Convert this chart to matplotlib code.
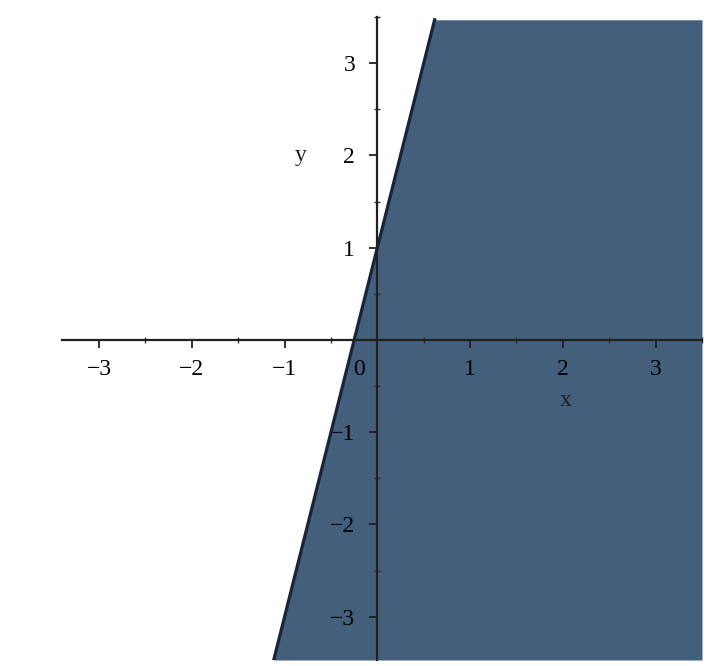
import numpy as np
import matplotlib
matplotlib.use("Agg")
import matplotlib.pyplot as plt
from matplotlib.transforms import ScaledTranslation

# boundary line y = 4x + 1, region y <= 4x + 1 is shaded
slope = 4.0
intercept = 1.0
x_range = [-3.4, 3.5]
y_range = [-3.47, 3.47]
major_ticks = [-3, -2, -1, 0, 1, 2, 3]
x_tick_labels = ["\u22123", "\u22122", "\u22121", "0", "1", "2", "3"]
y_ticks = [-3, -2, -1, 1, 2, 3]
y_tick_labels = ["\u22123", "\u22122", "\u22121", "1", "2", "3"]

plt.rcParams['font.family'] = ['Liberation Serif', 'DejaVu Serif']

fig = plt.figure(figsize=(7.07, 6.66), dpi=100)
ax = fig.add_axes([62/707, 6/666, 640/707, 643/666])

ys = np.array(y_range)
xs = (ys - intercept) / slope
ax.fill_betweenx(ys, xs, x_range[1], color="#445f7c", lw=0, zorder=1)
ax.plot(xs, ys, color="#16253a", lw=2.3, zorder=3)

ax.set_xlim(x_range)
ax.set_ylim(y_range)

for side in ["top", "right"]:
    ax.spines[side].set_visible(False)
ax.spines["left"].set_position(("data", 0))
ax.spines["bottom"].set_position(("data", 0))
for side in ["left", "bottom"]:
    ax.spines[side].set_linewidth(1.6)
    ax.spines[side].set_color("#202020")
    ax.spines[side].set_zorder(4)

ax.set_xticks(major_ticks)
ax.set_xticklabels(x_tick_labels)
ax.set_yticks(y_ticks)
ax.set_yticklabels(y_tick_labels)
ax.set_xticks(np.arange(-3, 3.6, 0.5), minor=True)
ax.set_yticks(np.arange(-3, 3.6, 0.5), minor=True)
ax.tick_params(which="major", direction="out", length=6, width=1.3,
               color="#202020", labelsize=17, pad=8)
ax.tick_params(which="minor", direction="inout", length=4, width=1.0,
               color="#303030")
ax.tick_params(axis="y", which="major", pad=10)

# origin label sits left of the vertical axis
for lab in ax.get_xticklabels():
    if lab.get_text() == "0":
        lab.set_transform(lab.get_transform() +
                          ScaledTranslation(-0.18, 0, fig.dpi_scale_trans))

ax.text(2.03, -0.66, "x", fontsize=17, ha="center", va="center", color="#202020")
ax.text(-0.83, 2.0, "y", fontsize=17, ha="center", va="center", color="#202020")

fig.savefig("out.png", dpi=100)
